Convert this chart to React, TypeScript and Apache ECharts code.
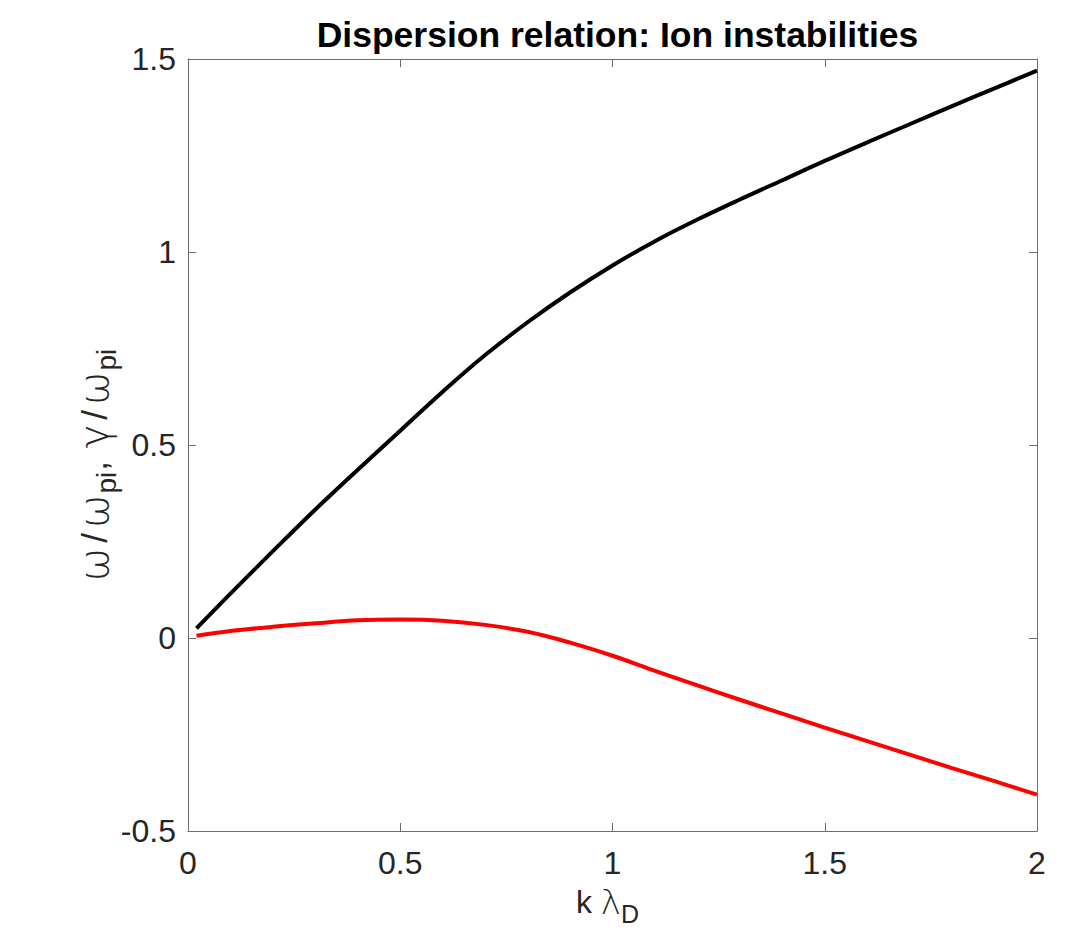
import React, { useEffect, useRef } from "react";
import * as echarts from "echarts";

// k * lambda_D
const kLambda = [0.02, 0.1, 0.2, 0.3, 0.4, 0.5, 0.6, 0.7, 0.8, 0.9, 1.0, 1.1, 1.2, 1.3, 1.4, 1.5, 1.6, 1.7, 1.8, 1.9, 2.0];
// omega / omega_pi (black)
const omegaReal = [0.025, 0.115, 0.225, 0.333, 0.436, 0.537, 0.638, 0.733, 0.818, 0.895, 0.965, 1.028, 1.084, 1.136, 1.186, 1.236, 1.284, 1.331, 1.378, 1.424, 1.47];
// gamma / omega_pi (red)
const gammaGrowth = [0.006, 0.018, 0.029, 0.038, 0.046, 0.048, 0.045, 0.034, 0.016, -0.012, -0.046, -0.085, -0.123, -0.16, -0.196, -0.232, -0.267, -0.302, -0.337, -0.371, -0.406];

const titleText = "Dispersion relation: Ion instabilities";
const FONT = '"Liberation Sans", Arial, Helvetica, sans-serif';
const GREEK_FONT = '"DejaVu Sans", "Liberation Sans", sans-serif';
const TEXT_COLOR = "#262626";
const AXIS_COLOR = "#6e6e6e";

const GRID = { left: 188, top: 59, right: 40, bottom: 108 };

function measure(text: string, size: number, family: string, weight: string) {
  const c = document.createElement("canvas").getContext("2d")!;
  c.font = `${weight} ${size}px ${family}`;
  return c.measureText(text).width;
}

type Part = { t: string; s: number; dy: number; f: string; gap?: number; w?: string };

function buildParts(parts: Part[]) {
  let acc = 0;
  const children = parts.map((p) => {
    const x = acc;
    const weight = p.w || "normal";
    acc += measure(p.t, p.s, p.f, weight) + (p.gap || 0);
    return {
      type: "text",
      x,
      y: p.dy,
      style: {
        text: p.t,
        fontSize: p.s,
        fontFamily: p.f,
        fontWeight: weight,
        fill: TEXT_COLOR,
        align: "left",
        verticalAlign: "middle",
      },
    };
  });
  return { children, total: acc };
}

export default function App() {
  const ref = useRef<HTMLDivElement>(null);

  useEffect(() => {
    if (!ref.current) return;
    const chart = echarts.init(ref.current, null, { renderer: "svg" });

    const yLab = buildParts([
      { t: "ω", s: 40, dy: 0, f: GREEK_FONT, gap: 5, w: "200" },
      { t: "/", s: 35, dy: 0, f: FONT, gap: 5 },
      { t: "ω", s: 40, dy: 0, f: GREEK_FONT, gap: 1, w: "200" },
      { t: "pi", s: 28, dy: 12, f: FONT, gap: 1 },
      { t: ", ", s: 35, dy: 0, f: FONT, gap: 3 },
      { t: "γ", s: 40, dy: 0, f: GREEK_FONT, gap: 5, w: "200" },
      { t: "/", s: 35, dy: 0, f: FONT, gap: 5 },
      { t: "ω", s: 40, dy: 0, f: GREEK_FONT, gap: 1, w: "200" },
      { t: "pi", s: 28, dy: 12, f: FONT },
    ]);

    const xLab = buildParts([
      { t: "k ", s: 32, dy: 0, f: FONT },
      { t: "λ", s: 34, dy: 0, f: GREEK_FONT, w: "200" },
      { t: "D", s: 25, dy: 12, f: FONT },
    ]);

    const plotCenterX = GRID.left + (1077 - GRID.left - GRID.right) / 2;

    const axisCommon = {
      type: "value",
      axisLine: { show: true, onZero: false, lineStyle: { color: AXIS_COLOR, width: 1 } },
      axisTick: { show: true, inside: true, length: 8, lineStyle: { color: AXIS_COLOR, width: 1 } },
      splitLine: { show: false },
    };

    const option = {
      animation: false,
      backgroundColor: "#ffffff",
      title: {
        text: titleText,
        left: plotCenterX,
        top: 12,
        textAlign: "center",
        textStyle: { fontFamily: FONT, fontWeight: "bold", fontSize: 35.5, color: "#000000" },
      },
      grid: { ...GRID, containLabel: false },
      xAxis: [
        {
          ...axisCommon,
          position: "bottom",
          min: 0,
          max: 2,
          interval: 0.5,
          axisLabel: { show: true, margin: 16, fontFamily: FONT, fontSize: 32, color: TEXT_COLOR },
        },
        {
          ...axisCommon,
          position: "top",
          min: 0,
          max: 2,
          interval: 0.5,
          axisLabel: { show: false },
        },
      ],
      yAxis: [
        {
          ...axisCommon,
          position: "left",
          min: -0.5,
          max: 1.5,
          interval: 0.5,
          axisLabel: { show: true, margin: 12, fontFamily: FONT, fontSize: 32, color: TEXT_COLOR },
        },
        {
          ...axisCommon,
          position: "right",
          min: -0.5,
          max: 1.5,
          interval: 0.5,
          axisLabel: { show: false },
        },
      ],
      series: [
        {
          name: "omega",
          type: "line",
          xAxisIndex: 0,
          yAxisIndex: 0,
          data: kLambda.map((k, i) => [k, omegaReal[i]]),
          showSymbol: false,
          smooth: 0.4,
          lineStyle: { color: "#000000", width: 4 },
          itemStyle: { color: "#000000" },
        },
        {
          name: "gamma",
          type: "line",
          xAxisIndex: 0,
          yAxisIndex: 0,
          data: kLambda.map((k, i) => [k, gammaGrowth[i]]),
          showSymbol: false,
          smooth: 0.4,
          lineStyle: { color: "#ff0000", width: 4 },
          itemStyle: { color: "#ff0000" },
        },
      ],
      graphic: [
        {
          type: "group",
          x: 94,
          y: 465 + yLab.total / 2,
          rotation: Math.PI / 2,
          children: yLab.children,
        },
        {
          type: "group",
          x: plotCenterX - 5 - xLab.total / 2,
          y: 902,
          children: xLab.children,
        },
      ],
    };

    chart.setOption(option as any);
    return () => chart.dispose();
  }, []);

  return (
    <div
      ref={ref}
      style={{ position: "absolute", left: 0, top: 0, width: 1077, height: 939, background: "#fff" }}
    />
  );
}
